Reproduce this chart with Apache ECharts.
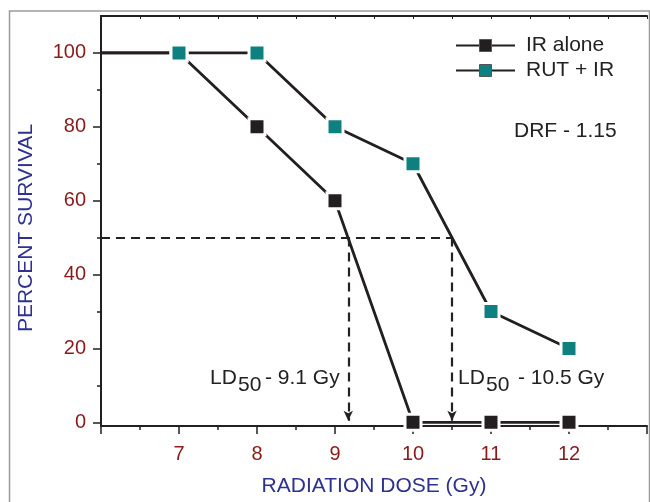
<!DOCTYPE html>
<html>
<head>
<meta charset="utf-8">
<script src="https://cdn.jsdelivr.net/npm/echarts@6/dist/echarts.min.js"></script>
<style>
    html, body {margin: 0; padding: 0; background: #fff;}
    #main {width: 650px; height: 502px;}
</style>
</head>
<body>
<div id="main"></div>
<script>
// 数据
var dose = [6, 7, 8, 9, 10, 11, 12]
var irAlone = [100, 100, 80, 60, 0, 0, 0]
var rutIr = [100, 100, 100, 80, 70, 30, 20]
var yMajor = [0, 20, 40, 60, 80, 100]
var yMinor = [10, 30, 50, 70, 90]
var survivalLevel = 50
var ld50Ir = 9.17
var ld50Rut = 10.5

var redLabel = '#8b1a1a',
    blueName = '#2e3192',
    teal = '#0f8080',
    black = '#231f20',
    font = 'Liberation Sans, Arial, sans-serif'

var myChart = echarts.init(document.getElementById('main'))

// 第一个点在坐标轴上，不画标记
function build(vals) {
    return dose.map(function (d, i) {
        if (i === 0) return {value: [d, vals[i]], symbol: 'none'}
        return [d, vals[i]]
    })
}

var dash = {color: '#222', width: 2.2, type: [9, 6]}

var option = {
    animation: false,
    grid: {left: 101, right: 0, top: 16, bottom: 74},
    legend: {
        left: 450, top: 30, orient: 'vertical',
        itemWidth: 59, itemHeight: 15, itemGap: 4,
        textStyle: {fontFamily: font, fontSize: 21, color: '#222', padding: [0, 0, 0, 6]},
        data: [
            {name: 'IR alone', itemStyle: {borderColor: '#555', borderWidth: 1}},
            {name: 'RUT + IR', itemStyle: {borderColor: '#555', borderWidth: 1}}
        ]
    },
    xAxis: [{
        type: 'value', min: 6, max: 13, interval: 1,
        name: 'RADIATION DOSE (Gy)', nameLocation: 'middle', nameGap: 50,
        nameTextStyle: {fontFamily: font, fontSize: 21, color: blueName},
        axisLine: {onZero: false, lineStyle: {color: black, width: 2}},
        axisTick: {length: 8, lineStyle: {color: black, width: 1.5}},
        minorTick: {show: true, splitNumber: 2, length: 4, lineStyle: {color: black, width: 1.5}},
        splitLine: {show: false},
        axisLabel: {
            fontFamily: font, fontSize: 20, color: redLabel, margin: 18,
            formatter: function (v) { return (v > 6 && v < 13) ? String(v) : '' }
        }
    }, {
        type: 'value', position: 'top', min: 6, max: 13, interval: 0.5,
        axisLine: {onZero: false, lineStyle: {color: black, width: 2}},
        axisTick: {inside: true, length: 3, lineStyle: {color: black}},
        axisLabel: {show: false},
        splitLine: {show: false}
    }],
    yAxis: [{
        type: 'value', min: -1, max: 110, position: 'left',
        name: 'PERCENT SURVIVAL', nameLocation: 'middle', nameGap: 64,
        nameTextStyle: {fontFamily: font, fontSize: 21, color: blueName, padding: [0, 14, 0, 0]},
        axisLine: {onZero: false, lineStyle: {color: black, width: 2}},
        axisTick: {length: 8, customValues: yMajor, lineStyle: {color: black, width: 1.5}},
        axisLabel: {fontFamily: font, fontSize: 20, color: redLabel, margin: 15, customValues: yMajor},
        splitLine: {show: false}
    }, {
        type: 'value', min: -1, max: 110, position: 'left',
        axisLine: {show: false, onZero: false},
        axisTick: {length: 4, customValues: yMinor, lineStyle: {color: black, width: 1.5}},
        axisLabel: {show: false},
        splitLine: {show: false}
    }],
    series: [{
        name: 'IR alone', type: 'line', data: build(irAlone),
        symbol: 'rect', symbolSize: 16,
        lineStyle: {color: black, width: 2.8},
        itemStyle: {color: black, borderColor: '#fff', borderWidth: 3},
        markLine: {
            silent: true, animation: false,
            label: {show: false},
            lineStyle: dash,
            symbol: ['none', 'arrow'], symbolSize: [7, 10],
            data: [
                [{coord: [6, survivalLevel], symbol: 'none'}, {coord: [ld50Rut, survivalLevel], symbol: 'none'}],
                [{coord: [ld50Ir, survivalLevel], symbol: 'none'}, {coord: [ld50Ir, 0.4], symbol: 'arrow'}],
                [{coord: [ld50Rut, survivalLevel], symbol: 'none'}, {coord: [ld50Rut, 0.4], symbol: 'arrow'}]
            ]
        }
    }, {
        name: 'RUT + IR', type: 'line', data: build(rutIr),
        symbol: 'rect', symbolSize: 16,
        lineStyle: {color: black, width: 2.8},
        itemStyle: {color: teal, borderColor: '#fff', borderWidth: 3}
    }],
    graphic: [
        {type: 'rect', silent: true, z: -1, shape: {x: 9.5, y: 11, width: 640, height: 500},
            style: {fill: null, stroke: '#9a9a9a', lineWidth: 1.5}},
        {type: 'text', left: 514, top: 121, style: {text: 'DRF - 1.15', font: '21px ' + font, fill: '#222'}},
        {type: 'text', left: 210, top: 368, style: {text: 'LD', font: '21px ' + font, fill: '#222'}},
        {type: 'text', left: 238, top: 375, style: {text: '50', font: '21px ' + font, fill: '#222'}},
        {type: 'text', left: 265, top: 368, style: {text: '- 9.1 Gy', font: '21px ' + font, fill: '#222'}},
        {type: 'text', left: 458, top: 368, style: {text: 'LD', font: '21px ' + font, fill: '#222'}},
        {type: 'text', left: 486, top: 375, style: {text: '50', font: '21px ' + font, fill: '#222'}},
        {type: 'text', left: 518, top: 368, style: {text: '- 10.5 Gy', font: '21px ' + font, fill: '#222'}}
    ]
}

myChart.setOption(option)
</script>
</body>
</html>
